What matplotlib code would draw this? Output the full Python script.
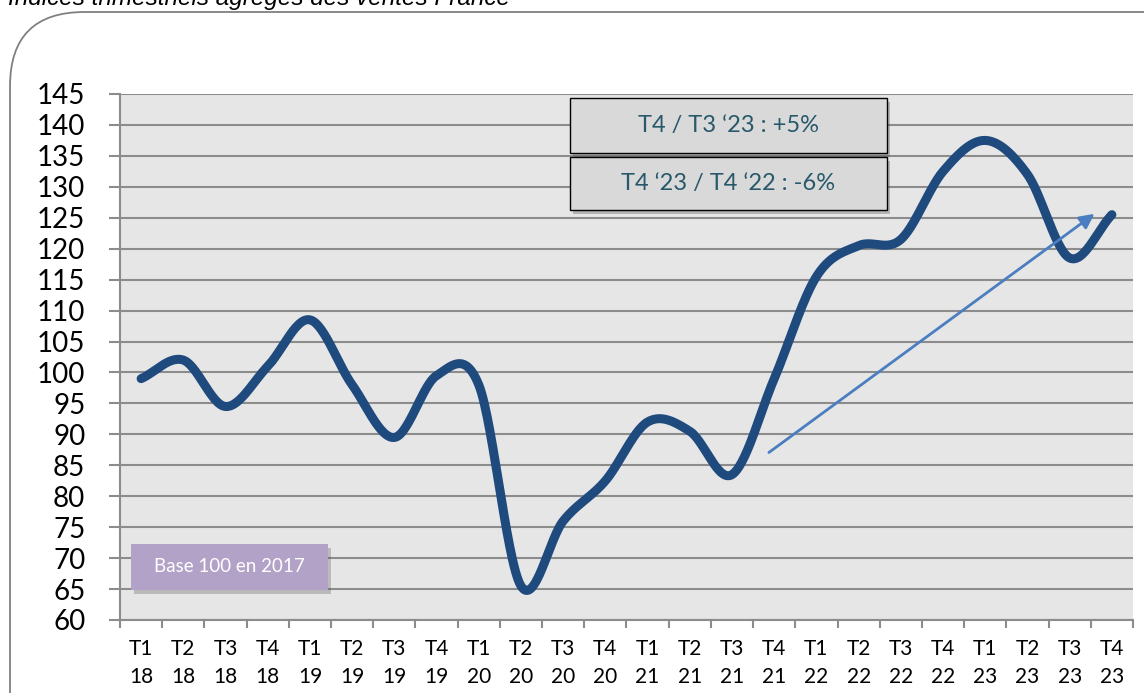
import numpy as np
import matplotlib.pyplot as plt
from matplotlib.patches import FancyBboxPatch, Rectangle

# Data
quarters = ["T1", "T2", "T3", "T4"] * 6
years = ["18"] * 4 + ["19"] * 4 + ["20"] * 4 + ["21"] * 4 + ["22"] * 4 + ["23"] * 4
values = [99, 102, 94.5, 101, 108.5, 98, 89.5, 99.5,
          98, 65.5, 76, 82.5, 92, 90.5, 83.5, 99,
          115.5, 120.5, 121.5, 132.5, 137.5, 132, 118.5, 125.5]
labels = [f"{q}\n{y}" for q, y in zip(quarters, years)]
box_texts = ["T4 / T3 \u201823 : +5%", "T4 \u201823 / T4 \u201822 : -6%"]
base_text = "Base 100 en 2017"
title = "Indices trimestriels agrégés des ventes France"

W, H = 1144, 693


def catmull_rom(y, n=30):
    # smoothed line like the spreadsheet "smoothed line" option
    y = np.asarray(y, dtype=float)
    x = np.arange(len(y), dtype=float)
    px = np.concatenate([[2 * x[0] - x[1]], x, [2 * x[-1] - x[-2]]])
    py = np.concatenate([[2 * y[0] - y[1]], y, [2 * y[-1] - y[-2]]])
    xs, ys = [], []
    t = np.linspace(0, 1, n, endpoint=False)
    for i in range(1, len(px) - 2):
        for arr, out in ((px, xs), (py, ys)):
            p0, p1, p2, p3 = arr[i - 1], arr[i], arr[i + 1], arr[i + 2]
            out.append(0.5 * ((2 * p1) + (-p0 + p2) * t
                              + (2 * p0 - 5 * p1 + 4 * p2 - p3) * t ** 2
                              + (-p0 + 3 * p1 - 3 * p2 + p3) * t ** 3))
    xs.append([x[-1]])
    ys.append([y[-1]])
    return np.concatenate(xs), np.concatenate(ys)


def px_rect(x0, y0, x1, y1):
    return x0 / W, 1 - y1 / H, (x1 - x0) / W, (y1 - y0) / H


fig = plt.figure(figsize=(W / 100, H / 100), dpi=100)
plt.rcParams["font.family"] = ["Lato", "DejaVu Sans"]

# outer rounded frame
frame = FancyBboxPatch((10 / W, -0.1), 1.2, 0.1 + 1 - 12 / H,
                       boxstyle="round,pad=0,rounding_size=0.065",
                       transform=fig.transFigure, facecolor="white",
                       edgecolor="#808080", lw=1.3, mutation_aspect=W / H, zorder=-1)
fig.patches.append(frame)

fig.text(8 / W, 1 - 5 / H, title, fontsize=17.5, style="italic",
         family="Liberation Sans", va="baseline", ha="left")

ax = fig.add_axes([120 / W, 1 - 620 / H, 1013 / W, 526 / H])
ax.set_facecolor("#E6E6E6")

xs, ys = catmull_rom(values)
ax.plot(xs, ys, color="#1F4A7E", lw=6.5, solid_capstyle="round", zorder=3)

ax.set_xlim(-0.5, len(values) - 0.5)
ax.set_ylim(60, 145)
ax.set_yticks(np.arange(60, 146, 5))
ax.yaxis.grid(True, color="#8C8C8C", lw=1.5)
ax.set_axisbelow(True)
ax.set_xticks(np.arange(len(values)))
ax.set_xticklabels(labels, fontsize=15, linespacing=1.45)
ax.set_xticks(np.arange(len(values) + 1) - 0.5, minor=True)
ax.tick_params(axis="x", which="major", length=0, pad=14)
ax.tick_params(axis="x", which="minor", length=6, color="#8C8C8C", width=1.5)
ax.tick_params(axis="y", length=8, color="#8C8C8C", width=1.5, pad=17, labelsize=20)
for s in ["top", "right"]:
    ax.spines[s].set_visible(False)
for s in ["left", "bottom"]:
    ax.spines[s].set_color("#8C8C8C")
    ax.spines[s].set_linewidth(1.5)

# trend arrow
ax.annotate("", xy=(22.64, 125.9), xytext=(14.82, 86.8),
            arrowprops=dict(arrowstyle="-|>", color="#4A7EC0", lw=2,
                            mutation_scale=22), zorder=4)

# comparison boxes
for (y0, y1), txt in zip([(98, 153), (157, 210)], box_texts):
    l, b, w, h = px_rect(570, y0, 887, y1)
    fig.patches.append(Rectangle((l + 3 / W, b - 4 / H), w, h, transform=fig.transFigure,
                                 facecolor="#555555", alpha=0.35, edgecolor="none", zorder=5))
    fig.patches.append(Rectangle((l, b), w, h, transform=fig.transFigure,
                                 facecolor="#D9D9D9", edgecolor="black", lw=1, zorder=6))
    fig.text(l + w / 2, b + h / 2, txt, fontsize=17, color="#27596B",
             ha="center", va="center", zorder=7)

l, b, w, h = px_rect(131, 544, 328, 590)
fig.patches.append(Rectangle((l + 3 / W, b - 4 / H), w, h, transform=fig.transFigure,
                             facecolor="#555555", alpha=0.3, edgecolor="none", zorder=5))
fig.patches.append(Rectangle((l, b), w, h, transform=fig.transFigure,
                             facecolor="#B3A2C7", edgecolor="none", zorder=6))
fig.text(l + w / 2, b + h / 2, base_text, fontsize=13.5, color="white",
         ha="center", va="center", zorder=7)

fig.savefig("out.png", dpi=100)
